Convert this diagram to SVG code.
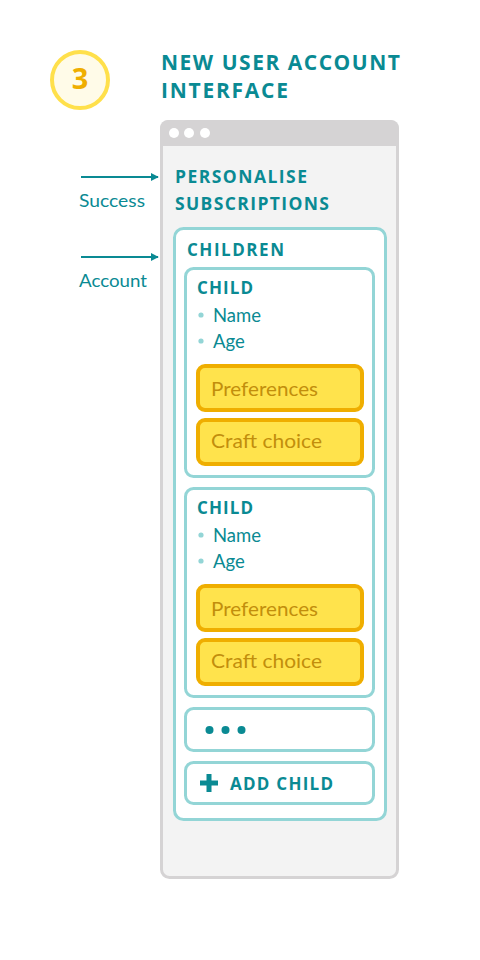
<svg xmlns="http://www.w3.org/2000/svg" width="480" height="960" viewBox="0 0 480 960">
<style>
.h{font-family:"Open Sans","Noto Sans",sans-serif;font-weight:700;fill:#0A8A93}
.b{font-family:Lato,"Open Sans",sans-serif;font-weight:400;fill:#0A8A93}
.y{font-family:Lato,"Open Sans",sans-serif;font-weight:400;fill:#C28E0C;font-size:19px}
.box{fill:#FFFFFF;stroke:#93D5D6;stroke-width:3}
.ybox{fill:#FFE34C;stroke:#EFAE00;stroke-width:4}
.bul{fill:#93D5D6}
</style>
<defs>
<marker id="ah" viewBox="0 0 10 10" refX="9" refY="5" markerWidth="8" markerHeight="8" markerUnits="userSpaceOnUse" orient="auto">
<path d="M0,0 L10,5 L0,10 z" fill="#0A8A93"/>
</marker>
</defs>
<rect width="480" height="960" fill="#FFFFFF"/>
<g id="step">
<circle cx="80" cy="80" r="28" fill="#FFFBE8" stroke="#FFE04B" stroke-width="4"/>
<text x="80" y="89" text-anchor="middle" class="h" style="fill:#EFAE00;font-size:29px">3</text>
</g>
<g id="title">
<text x="161" y="70" class="h" font-size="21" textLength="239" lengthAdjust="spacing">NEW USER ACCOUNT</text>
<text x="161" y="98" class="h" font-size="21" textLength="127" lengthAdjust="spacing">INTERFACE</text>
</g>
<g id="window">
<rect x="161.5" y="121.5" width="236" height="756" rx="8" fill="#F3F3F3" stroke="#D5D3D4" stroke-width="3"/>
<path d="M160,146 V128 a8,8 0 0 1 8,-8 H391 a8,8 0 0 1 8,8 V146 z" fill="#D5D3D4"/>
<circle cx="174" cy="133" r="5" fill="#FFFFFF"/>
<circle cx="189" cy="133" r="5" fill="#FFFFFF"/>
<circle cx="205" cy="133" r="5" fill="#FFFFFF"/>
<text x="175" y="183" class="h" font-size="17.5" textLength="132" lengthAdjust="spacing">PERSONALISE</text>
<text x="175" y="210" class="h" font-size="17.5" textLength="154" lengthAdjust="spacing">SUBSCRIPTIONS</text>
</g>
<g id="connectors">
<line x1="81" y1="177" x2="158" y2="177" stroke="#0A8A93" stroke-width="2" marker-end="url(#ah)"/>
<line x1="81" y1="257" x2="158" y2="257" stroke="#0A8A93" stroke-width="2" marker-end="url(#ah)"/>
</g>
<g id="label-success"><text x="79" y="207" class="b" font-size="17.5" textLength="66" lengthAdjust="spacingAndGlyphs">Success</text></g>
<g id="label-account"><text x="79" y="287" class="b" font-size="17.5" textLength="68" lengthAdjust="spacingAndGlyphs">Account</text></g>
<g id="children">
<rect x="174.5" y="228.5" width="211" height="591" rx="9" class="box"/>
<text x="187" y="256" class="h" font-size="17" textLength="97" lengthAdjust="spacing">CHILDREN</text>
</g>
<g id="child1">
<rect x="185.5" y="268.5" width="188" height="208" rx="8" class="box"/>
<text x="197" y="294" class="h" font-size="17" textLength="56" lengthAdjust="spacing">CHILD</text>
<circle cx="201" cy="315" r="2.6" class="bul"/>
<text x="213" y="322" class="b" font-size="18.5">Name</text>
<circle cx="201" cy="341" r="2.6" class="bul"/>
<text x="213" y="348" class="b" font-size="18.5">Age</text>
<rect x="198" y="366" width="164" height="44" rx="7" class="ybox"/>
<text x="211" y="396" class="y" textLength="107" lengthAdjust="spacingAndGlyphs">Preferences</text>
<rect x="198" y="420" width="164" height="44" rx="7" class="ybox"/>
<text x="211" y="448" class="y" textLength="111" lengthAdjust="spacingAndGlyphs">Craft choice</text>
</g>
<g id="child2">
<rect x="185.5" y="488.5" width="188" height="208" rx="8" class="box"/>
<text x="197" y="514" class="h" font-size="17" textLength="56" lengthAdjust="spacing">CHILD</text>
<circle cx="201" cy="535" r="2.6" class="bul"/>
<text x="213" y="542" class="b" font-size="18.5">Name</text>
<circle cx="201" cy="561" r="2.6" class="bul"/>
<text x="213" y="568" class="b" font-size="18.5">Age</text>
<rect x="198" y="586" width="164" height="44" rx="7" class="ybox"/>
<text x="211" y="616" class="y" textLength="107" lengthAdjust="spacingAndGlyphs">Preferences</text>
<rect x="198" y="640" width="164" height="44" rx="7" class="ybox"/>
<text x="211" y="668" class="y" textLength="111" lengthAdjust="spacingAndGlyphs">Craft choice</text>
</g>
<g id="more">
<rect x="185.5" y="708.5" width="188" height="42" rx="8" class="box"/>
<circle cx="209.5" cy="730" r="4" fill="#0A8A93"/>
<circle cx="225.5" cy="730" r="4" fill="#0A8A93"/>
<circle cx="241.5" cy="730" r="4" fill="#0A8A93"/>
</g>
<g id="add-child">
<rect x="185.5" y="762.5" width="188" height="41" rx="8" class="box"/>
<path d="M200,783 H218 M209,774 V792" stroke="#0A8A93" stroke-width="5"/>
<text x="230" y="790" class="h" font-size="17" textLength="103" lengthAdjust="spacing">ADD CHILD</text>
</g>
</svg>
